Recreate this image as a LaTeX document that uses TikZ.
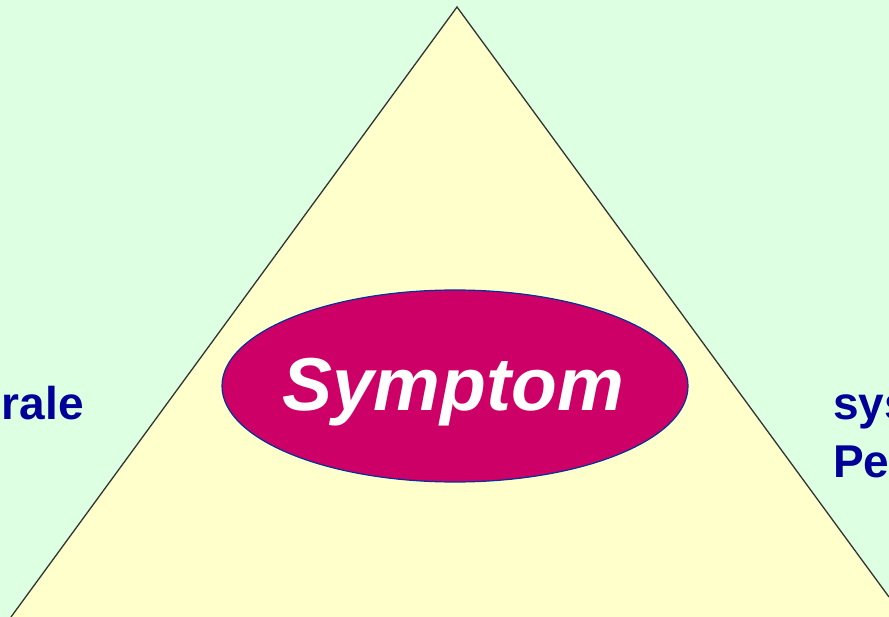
\documentclass[tikz,border=0pt]{standalone}
\usepackage{fontspec}
\setmainfont{Liberation Sans}
\usetikzlibrary{shapes.geometric}
\definecolor{bggreen}{RGB}{221,255,226}
\definecolor{triyellow}{RGB}{255,255,204}
\definecolor{symred}{RGB}{204,0,102}
\definecolor{txtblue}{RGB}{0,0,153}
\definecolor{rimblue}{RGB}{0,51,153}
\definecolor{edgegray}{RGB}{51,51,51}
\tikzset{
  sidetext/.style={inner sep=0pt, text=txtblue, font=\fontsize{46}{57}\selectfont\bfseries},
  symbox/.style={ellipse, draw=rimblue, line width=1.2pt, fill=symred, minimum width=466pt, minimum height=192pt, inner sep=0pt},
  symtext/.style={inner sep=0pt, text=white, font=\fontsize{75}{90}\selectfont\bfseries\itshape}
}
\begin{document}
\begin{tikzpicture}[x=1pt,y=-1pt]
\useasboundingbox (0,0) rectangle (889,617);
\clip (0,0) rectangle (889,617);
\fill[bggreen] (0,0) rectangle (889,617);
\coordinate (apex) at (457,7);
\coordinate (bl) at (11,617);
\coordinate (br) at (889,597);
\coordinate (brc) at (889,617);
\fill[triyellow] (apex) -- (br) -- (brc) -- (bl) -- cycle;
\draw[edgegray, line width=1.3pt] (bl) -- (apex) -- (br);
\node[symbox] (sym) at (455,386) {};
\node[symtext, anchor=base] (symlabel) at (453,410) {Symptom};
\node[sidetext, anchor=base east] (leftlabel) at (84,420) {rale};
\node[sidetext, anchor=base west] (rightone) at (833,420) {sys};
\node[sidetext, anchor=base west] (righttwo) at (833,477) {Pe};
\end{tikzpicture}
\end{document}
